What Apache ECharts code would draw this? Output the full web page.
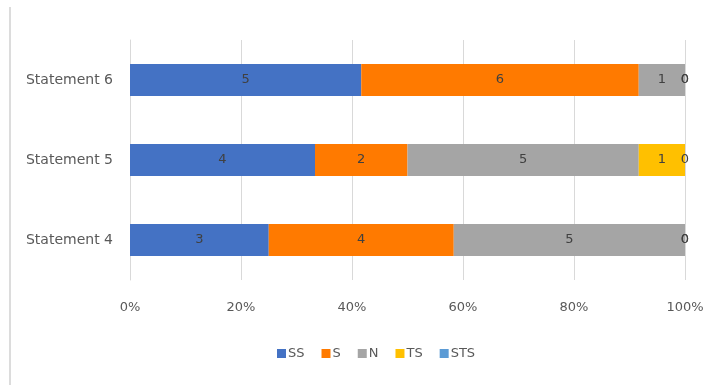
<!DOCTYPE html>
<html>
<head>
<meta charset="utf-8">
<script src="https://cdn.jsdelivr.net/npm/echarts@6/dist/echarts.min.js"></script>
<style>html,body{margin:0;padding:0;background:#fff;}#c{width:717px;height:385px;}</style>
</head>
<body>
<div id="c"></div>
<script>
const categories = ['Statement 4', 'Statement 5', 'Statement 6'];
const seriesNames = ['SS', 'S', 'N', 'TS', 'STS'];
const SS = [3, 4, 5];
const S = [4, 2, 6];
const N = [5, 5, 1];
const TS = [0, 1, 0];
const STS = [0, 0, 0];
const xTicks = ['0%', '20%', '40%', '60%', '80%', '100%'];
const colors = ['#4472C4', '#FF7A00', '#A5A5A5', '#FFC000', '#5B9BD5'];

const raw = [SS, S, N, TS, STS];
const totals = categories.map((_, i) => raw.reduce((a, arr) => a + arr[i], 0));

const chart = echarts.init(document.getElementById('c'), null, {renderer: 'canvas'});
chart.setOption({
  animation: false,
  color: colors,
  textStyle: {fontFamily: 'DejaVu Sans'},
  grid: {left: 130, right: 32, top: 40, bottom: 105, containLabel: false},
  xAxis: {
    type: 'value', min: 0, max: 100, interval: 20,
    axisLine: {show: false}, axisTick: {show: false},
    splitLine: {lineStyle: {color: '#D9D9D9', width: 1}},
    axisLabel: {color: '#595959', fontSize: 13, margin: 21,
      formatter: v => xTicks[Math.round(v / 20)]}
  },
  yAxis: {
    type: 'category', data: categories,
    axisLine: {lineStyle: {color: '#D9D9D9'}}, axisTick: {show: false},
    axisLabel: {color: '#595959', fontSize: 14, margin: 17}
  },
  legend: {
    bottom: 20, left: 272, itemWidth: 9, itemHeight: 9, itemGap: 17,
    icon: 'rect',
    textStyle: {color: '#595959', fontSize: 13, padding: [0, 0, 0, -3]},
    data: seriesNames
  },
  graphic: [{type: 'line', shape: {x1: 10, y1: 7, x2: 10, y2: 385},
    style: {stroke: '#DCDCDC', lineWidth: 2}}],
  series: seriesNames.map((name, k) => ({
    name, type: 'bar', stack: 'total', barWidth: 32,
    data: raw[k].map((v, i) => ({value: v / totals[i] * 100, raw: v})),
    label: {show: true, position: 'inside', color: '#404040', fontSize: 13,
      formatter: p => String(raw[k][p.dataIndex])}
  }))
});
</script>
</body>
</html>
